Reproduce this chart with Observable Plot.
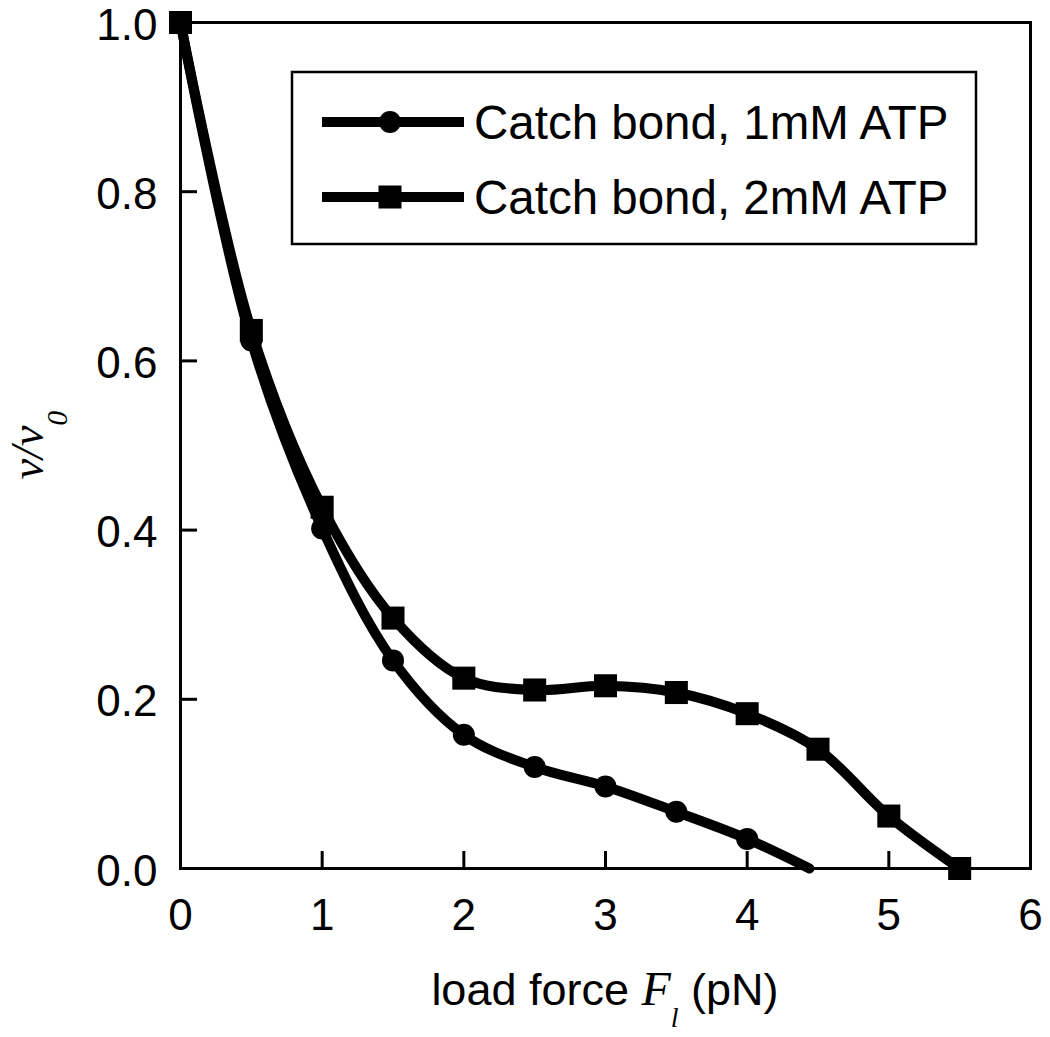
<!DOCTYPE html>
<html><head><meta charset="utf-8">
<script src="https://cdn.jsdelivr.net/npm/d3@7"></script>
<script src="https://cdn.jsdelivr.net/npm/@observablehq/plot@0.6"></script>
<style>body{margin:0;background:#fff}</style>
</head><body><div id="chart"></div>
<script>
// ---- data ----
const seriesNames = ["Catch bond, 1mM ATP", "Catch bond, 2mM ATP"];
const force1 = [0, 0.5, 1, 1.5, 2, 2.5, 3, 3.5, 4, 4.44];
const ratio1 = [1.0, 0.624, 0.402, 0.246, 0.158, 0.120, 0.097, 0.067, 0.035, 0.0];
const marked1 = [true, true, true, true, true, true, true, true, true, false];
const force2 = [0, 0.5, 1, 1.5, 2, 2.5, 3, 3.5, 4, 4.5, 5, 5.5];
const ratio2 = [1.0, 0.636, 0.427, 0.296, 0.225, 0.211, 0.216, 0.208, 0.183, 0.141, 0.062, 0.0];
const xTicks = [0, 1, 2, 3, 4, 5, 6];
const yTicks = [0, 0.2, 0.4, 0.6, 0.8, 1.0];

const rows1 = force1.map((f, i) => ({force: f, ratio: ratio1[i], marked: marked1[i]}));
const rows2 = force2.map((f, i) => ({force: f, ratio: ratio2[i], marked: true}));

const W = 1050, H = 1037, mL = 180, mR = 20, mT = 22, mB = 169;
const frameH = H - mT - mB, frameW = W - mL - mR, tickLen = 17;

const svg = Plot.plot({
  width: W, height: H,
  marginLeft: mL, marginRight: mR, marginTop: mT, marginBottom: mB,
  x: {domain: [0, 6]},
  y: {domain: [0, 1]},
  style: {fontFamily: "'Liberation Sans', Arial, sans-serif", fontSize: "44px", color: "#000", background: "#fff"},
  marks: [
    Plot.axisX(xTicks, {tickSize: 0, tickPadding: 30, tickFormat: d => String(d), label: null, fontSize: 44}),
    Plot.axisY(yTicks, {tickSize: 0, tickPadding: 23, tickFormat: d => d.toFixed(1), label: null, fontSize: 44, dy: 3}),
    Plot.ruleX(xTicks.slice(1, -1), {x: d => d, insetTop: frameH - tickLen, stroke: "#000", strokeWidth: 3}),
    Plot.ruleY(yTicks.slice(1, -1), {y: d => d, insetRight: frameW - tickLen, stroke: "#000", strokeWidth: 3}),
    Plot.line(rows1, {x: "force", y: "ratio", curve: "catmull-rom", stroke: "#000", strokeWidth: 10}),
    Plot.line(rows2, {x: "force", y: "ratio", curve: "catmull-rom", stroke: "#000", strokeWidth: 10}),
    Plot.dot(rows1.filter(d => d.marked), {x: "force", y: "ratio", r: 11, fill: "#000", symbol: "circle"}),
    Plot.dot(rows2, {x: "force", y: "ratio", r: 13, fill: "#000", symbol: "square"}),
    Plot.frame({stroke: "#000", strokeWidth: 3})
  ]
});

const s = d3.select(svg);
// legend
const lg = s.append("g").attr("text-anchor", "start");
lg.append("rect").attr("x", 292).attr("y", 72).attr("width", 684).attr("height", 172)
  .attr("fill", "#fff").attr("stroke", "#000").attr("stroke-width", 2.5);
const rowY = [122, 197];
seriesNames.forEach((name, i) => {
  const y = rowY[i];
  lg.append("line").attr("x1", 322).attr("x2", 464).attr("y1", y).attr("y2", y)
    .attr("stroke", "#000").attr("stroke-width", 10);
  if (i === 0) lg.append("circle").attr("cx", 390).attr("cy", y).attr("r", 11).attr("fill", "#000");
  else lg.append("rect").attr("x", 390 - 11.5).attr("y", y - 11.5).attr("width", 23).attr("height", 23).attr("fill", "#000");
  lg.append("text").attr("x", 474).attr("y", y + 17).attr("text-anchor", "start")
    .attr("font-family", "'Liberation Sans', Arial, sans-serif").attr("font-size", 47.5).attr("fill", "#000")
    .text(name);
});
// y label
const yl = s.append("text").attr("transform", "translate(43,445) rotate(-90)")
  .attr("text-anchor", "middle").attr("font-family", "'Liberation Serif', 'Times New Roman', serif")
  .attr("font-style", "italic").attr("font-size", 46).attr("fill", "#000");
yl.append("tspan").text("v/v");
yl.append("tspan").attr("font-size", 30).attr("dy", 24).text("0");
// x label
const xl = s.append("text").attr("x", 605).attr("y", 1005).attr("text-anchor", "middle")
  .attr("font-family", "'Liberation Sans', Arial, sans-serif").attr("font-size", 45).attr("fill", "#000");
xl.append("tspan").text("load force ");
xl.append("tspan").attr("font-family", "'Liberation Serif', serif").attr("font-style", "italic").attr("font-size", 48).text("F");
xl.append("tspan").attr("font-family", "'Liberation Serif', serif").attr("font-style", "italic").attr("font-size", 28).attr("dy", 22).text("l");
xl.append("tspan").attr("dy", -22).text(" (pN)");

document.getElementById("chart").appendChild(svg);
</script>
</body></html>
